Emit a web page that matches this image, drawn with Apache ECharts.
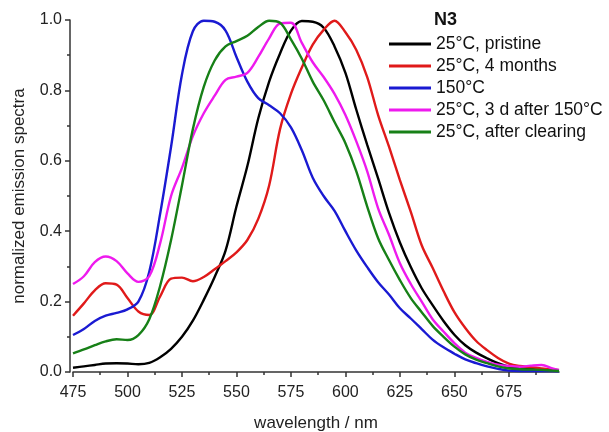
<!DOCTYPE html>
<html>
<head>
<meta charset="utf-8">
<script src="https://cdn.jsdelivr.net/npm/echarts@6/dist/echarts.min.js"></script>
<style>
  html, body { margin: 0; padding: 0; background: #fff; }
  #chart { width: 609px; height: 432px; }
</style>
</head>
<body>
<div id="chart"></div>
<script>
// wavelength (nm)
const wavelengths = [475, 480, 485, 490, 495, 500, 505, 510, 515, 520, 525, 530, 535, 540, 545, 550, 555, 560, 565, 570, 575, 580, 585, 590, 595, 600, 605, 610, 615, 620, 625, 630, 635, 640, 645, 650, 655, 660, 665, 670, 675, 680, 685, 690, 695, 698]

const pristine = [0.012, 0.016, 0.020, 0.024, 0.025, 0.024, 0.022, 0.026, 0.042, 0.066, 0.100, 0.146, 0.205, 0.270, 0.345, 0.470, 0.585, 0.720, 0.825, 0.905, 0.970, 0.997, 0.995, 0.978, 0.925, 0.850, 0.745, 0.645, 0.550, 0.452, 0.368, 0.298, 0.238, 0.190, 0.145, 0.106, 0.076, 0.055, 0.039, 0.025, 0.015, 0.011, 0.009, 0.007, 0.005, 0.004]
const months4 = [0.160, 0.195, 0.232, 0.252, 0.248, 0.210, 0.172, 0.162, 0.215, 0.265, 0.268, 0.258, 0.270, 0.292, 0.315, 0.340, 0.375, 0.435, 0.530, 0.690, 0.790, 0.865, 0.930, 0.972, 0.998, 0.965, 0.915, 0.838, 0.730, 0.640, 0.545, 0.455, 0.360, 0.296, 0.230, 0.170, 0.125, 0.088, 0.062, 0.040, 0.024, 0.017, 0.014, 0.010, 0.007, 0.005]
const hot150 = [0.105, 0.122, 0.145, 0.160, 0.168, 0.178, 0.200, 0.285, 0.450, 0.640, 0.845, 0.968, 0.998, 0.995, 0.970, 0.895, 0.825, 0.778, 0.758, 0.735, 0.695, 0.630, 0.552, 0.500, 0.458, 0.400, 0.345, 0.298, 0.255, 0.220, 0.181, 0.152, 0.122, 0.092, 0.070, 0.052, 0.036, 0.025, 0.016, 0.009, 0.004, 0.003, 0.003, 0.003, 0.003, 0.002]
const after3d = [0.250, 0.272, 0.312, 0.328, 0.315, 0.280, 0.256, 0.272, 0.366, 0.500, 0.580, 0.670, 0.735, 0.785, 0.830, 0.839, 0.850, 0.895, 0.948, 0.990, 0.992, 0.935, 0.880, 0.838, 0.790, 0.730, 0.655, 0.570, 0.465, 0.390, 0.309, 0.250, 0.200, 0.150, 0.115, 0.082, 0.055, 0.040, 0.029, 0.021, 0.017, 0.015, 0.018, 0.020, 0.010, 0.006]
const cleared = [0.053, 0.064, 0.076, 0.087, 0.093, 0.091, 0.105, 0.150, 0.245, 0.375, 0.530, 0.690, 0.810, 0.885, 0.925, 0.940, 0.955, 0.980, 0.998, 0.992, 0.945, 0.890, 0.825, 0.772, 0.710, 0.650, 0.570, 0.470, 0.380, 0.318, 0.261, 0.210, 0.170, 0.131, 0.100, 0.072, 0.050, 0.035, 0.025, 0.016, 0.010, 0.008, 0.007, 0.006, 0.004, 0.003]

const xTicks = [475, 500, 525, 550, 575, 600, 625, 650, 675]

const seriesNames = ['25°C, pristine', '25°C, 4 months', '150°C', '25°C, 3 d after 150°C', '25°C, after clearing']
const seriesColors = ['#000000', '#e01a1a', '#1a1ad2', '#ee1aee', '#178017']
const seriesValues = [pristine, months4, hot150, after3d, cleared]

const chart = echarts.init(document.getElementById('chart'))

const axisText = { color: '#222', fontFamily: 'Liberation Sans, Arial, sans-serif' }

const option = {
  animation: false,
  textStyle: { fontFamily: 'Liberation Sans, Arial, sans-serif' },
  title: {
    text: 'N3',
    left: 434,
    top: 11,
    padding: 0,
    textStyle: { fontSize: 18, fontWeight: 'bold', color: '#111' }
  },
  legend: {
    orient: 'vertical',
    left: 389,
    top: 34,
    padding: 0,
    itemWidth: 42,
    itemHeight: 3,
    itemGap: 2,
    icon: 'rect',
    textStyle: { fontSize: 17.5, lineHeight: 20, color: '#111' },
    data: seriesNames
  },
  grid: {
    left: 73,
    right: 50,
    top: 20,
    bottom: 60,
    outerBoundsMode: 'none'
  },
  xAxis: {
    type: 'value',
    min: 475,
    max: 698,
    interval: 25,
    offset: 5,
    name: 'wavelength / nm',
    nameLocation: 'middle',
    nameGap: 38,
    nameTextStyle: { ...axisText, fontSize: 17 },
    axisLine: { show: true, lineStyle: { color: '#333', width: 1.5 } },
    axisTick: { show: true, length: 5, customValues: xTicks, lineStyle: { color: '#333', width: 1.5 } },
    minorTick: { show: true, splitNumber: 2, length: 3, lineStyle: { color: '#333', width: 1.5 } },
    axisLabel: { ...axisText, fontSize: 16, margin: 8, customValues: xTicks },
    splitLine: { show: false }
  },
  yAxis: {
    type: 'value',
    min: 0,
    max: 1,
    interval: 0.2,
    offset: 3,
    name: 'normalized emission spectra',
    nameLocation: 'middle',
    nameGap: 42,
    nameTextStyle: { ...axisText, fontSize: 17 },
    axisLine: { show: true, lineStyle: { color: '#333', width: 1.5 } },
    axisTick: { show: true, length: 5, lineStyle: { color: '#333', width: 1.5 } },
    minorTick: { show: true, splitNumber: 2, length: 3, lineStyle: { color: '#333', width: 1.5 } },
    axisLabel: { ...axisText, fontSize: 16, margin: 8, formatter: v => v.toFixed(1) },
    splitLine: { show: false }
  },
  series: seriesNames.map((name, i) => ({
    name: name,
    type: 'line',
    smooth: 0.35,
    showSymbol: false,
    data: wavelengths.map((w, j) => [w, seriesValues[i][j]]),
    lineStyle: { color: seriesColors[i], width: 2.4 },
    itemStyle: { color: seriesColors[i] }
  }))
}

chart.setOption(option)
</script>
</body>
</html>
